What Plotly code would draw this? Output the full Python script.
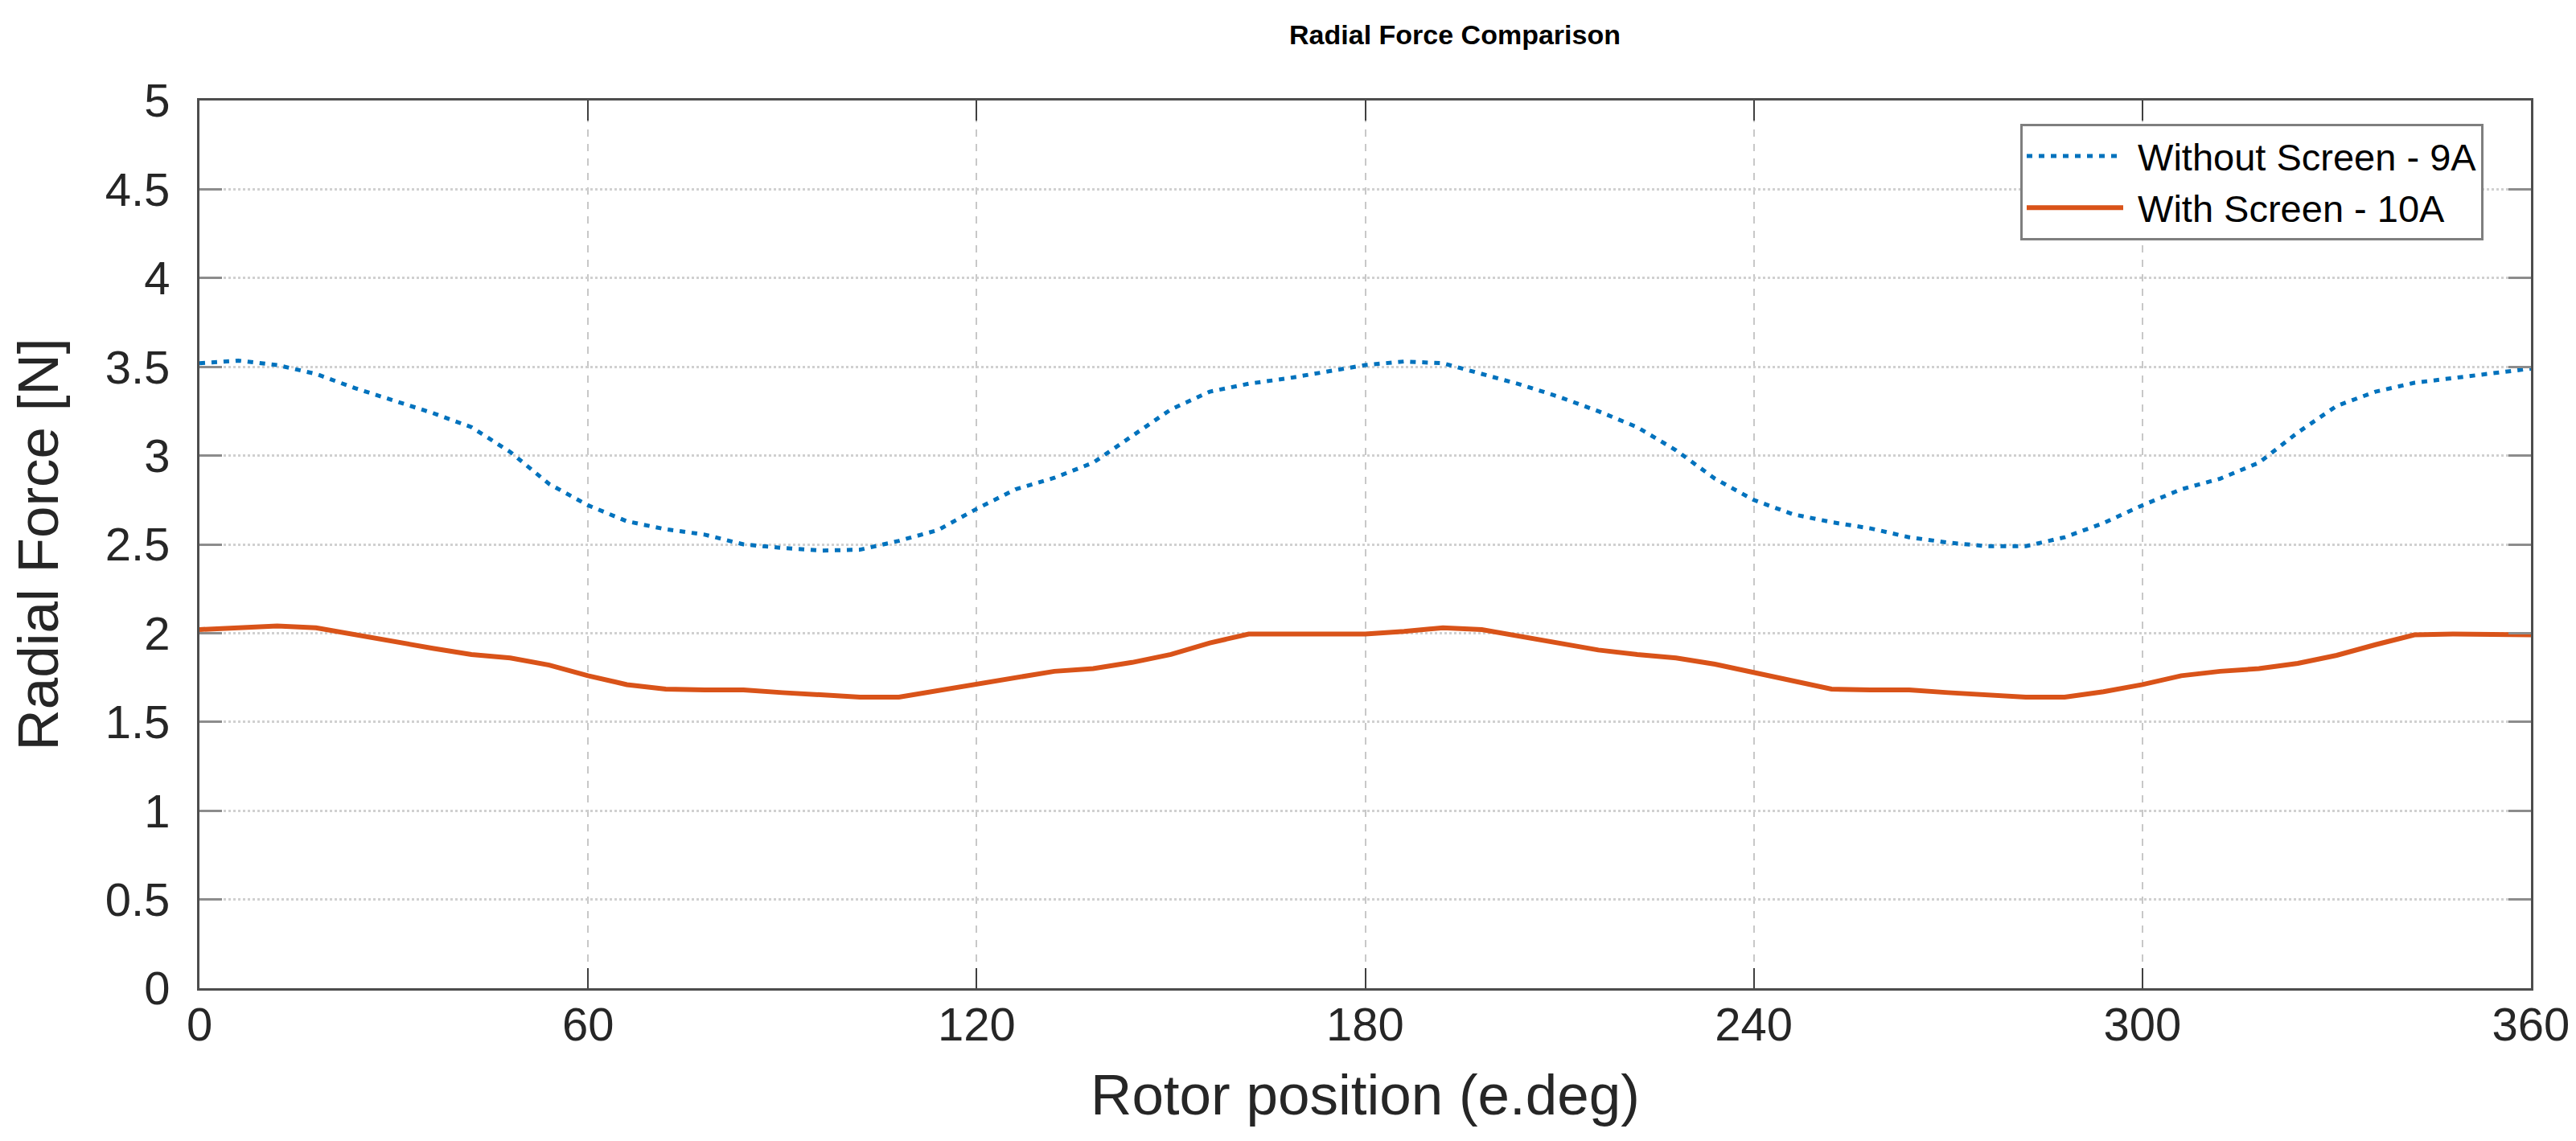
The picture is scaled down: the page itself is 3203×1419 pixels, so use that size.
import plotly.graph_objects as go

# Rotor position (electrical degrees)
rotor_deg = list(range(0, 361, 6))

# Without Screen - 9A
force_no_screen = [
    3.52, 3.535, 3.51, 3.46, 3.38, 3.31, 3.24, 3.16, 3.02, 2.84,
    2.72, 2.63, 2.585, 2.555, 2.50, 2.48, 2.465, 2.47, 2.52, 2.58,
    2.70, 2.81, 2.875, 2.96, 3.11, 3.26, 3.36, 3.405, 3.435, 3.475,
    3.51, 3.53, 3.52, 3.46, 3.40, 3.33, 3.25, 3.16, 3.03, 2.87,
    2.75, 2.67, 2.625, 2.59, 2.54, 2.51, 2.49, 2.49, 2.54, 2.62,
    2.72, 2.81, 2.87, 2.96, 3.13, 3.28, 3.36, 3.41, 3.435, 3.46,
    3.49,
]

# With Screen - 10A
force_screen = [
    2.02, 2.03, 2.04, 2.03, 1.99, 1.95, 1.915, 1.88, 1.86, 1.82,
    1.76, 1.71, 1.685, 1.68, 1.68, 1.665, 1.655, 1.64, 1.64, 1.675,
    1.71, 1.75, 1.785, 1.80, 1.835, 1.88, 1.945, 1.995, 1.995, 1.99,
    1.995, 2.01, 2.03, 2.02, 1.98, 1.94, 1.905, 1.88, 1.86, 1.825,
    1.78, 1.73, 1.685, 1.68, 1.68, 1.665, 1.655, 1.64, 1.64, 1.67,
    1.71, 1.76, 1.785, 1.80, 1.83, 1.875, 1.935, 1.99, 1.995, 1.99,
    1.99,
]

series_names = ["Without Screen - 9A", "With Screen - 10A"]
x_ticks = [0, 60, 120, 180, 240, 300, 360]
y_ticks = [0, 0.5, 1, 1.5, 2, 2.5, 3, 3.5, 4, 4.5, 5]
y_tick_labels = ["0", "0.5", "1", "1.5", "2", "2.5", "3", "3.5", "4", "4.5", "5"]

FONT = "Liberation Sans, Arial, Helvetica, sans-serif"
W, H = 3203, 1419
L, R, T, B = 240, 64, 117, 198
PW, PH = W - L - R, H - T - B

fig = go.Figure()
fig.add_trace(go.Scatter(
    x=rotor_deg, y=force_no_screen, mode="lines",
    name="\u00a0" + series_names[0],
    line=dict(color="#0072BD", width=5, dash="7px,8px"),
))
fig.add_trace(go.Scatter(
    x=rotor_deg, y=force_screen, mode="lines",
    name="\u00a0" + series_names[1],
    line=dict(color="#D95319", width=6),
))

fig.update_layout(
    width=W, height=H,
    margin=dict(l=L, r=R, t=T, b=B, pad=0),
    paper_bgcolor="white", plot_bgcolor="white",
    font=dict(family=FONT, color="#262626"),
    title=dict(
        text="<b>Radial Force Comparison</b>",
        font=dict(family=FONT, size=34, color="#000000"),
        x=1801 / W, xanchor="center", xref="container",
        y=1 - 35 / H, yanchor="middle", yref="container",
    ),
    showlegend=True,
    legend=dict(
        x=(3080 - L) / PW, xanchor="right",
        y=(1220 - 145) / PH, yanchor="top",
        bgcolor="white", bordercolor="#7f7f7f", borderwidth=3,
        font=dict(family=FONT, size=47, color="#000000"),
        itemwidth=120, tracegroupgap=0,
    ),
)

fig.update_xaxes(
    range=[0, 360], tickvals=x_ticks, ticktext=[str(v) for v in x_ticks],
    showline=True, linecolor="#4d4d4d", linewidth=3, mirror="ticks",
    ticks="inside", ticklen=25, tickwidth=2, tickcolor="#404040",
    tickfont=dict(family=FONT, size=58, color="#262626"),
    ticklabelstandoff=-8,
    showgrid=True, gridcolor="#c8c8c8", gridwidth=1.5, griddash="dash",
    zeroline=False,
    title=dict(text="Rotor position (e.deg)", standoff=32,
               font=dict(family=FONT, size=71, color="#262626")),
)
fig.update_yaxes(
    range=[0, 5], tickvals=y_ticks, ticktext=y_tick_labels,
    showline=True, linecolor="#4d4d4d", linewidth=3, mirror="ticks",
    ticks="inside", ticklen=28, tickwidth=3, tickcolor="#8c8c8c",
    tickfont=dict(family=FONT, size=58, color="#262626"),
    ticklabelstandoff=22,
    showgrid=True, gridcolor="#d0d0d0", gridwidth=2.5, griddash="dot",
    zeroline=False,
    title=dict(text="Radial Force [N]", standoff=36,
               font=dict(family=FONT, size=71, color="#262626")),
)

fig.write_html("out.html")
